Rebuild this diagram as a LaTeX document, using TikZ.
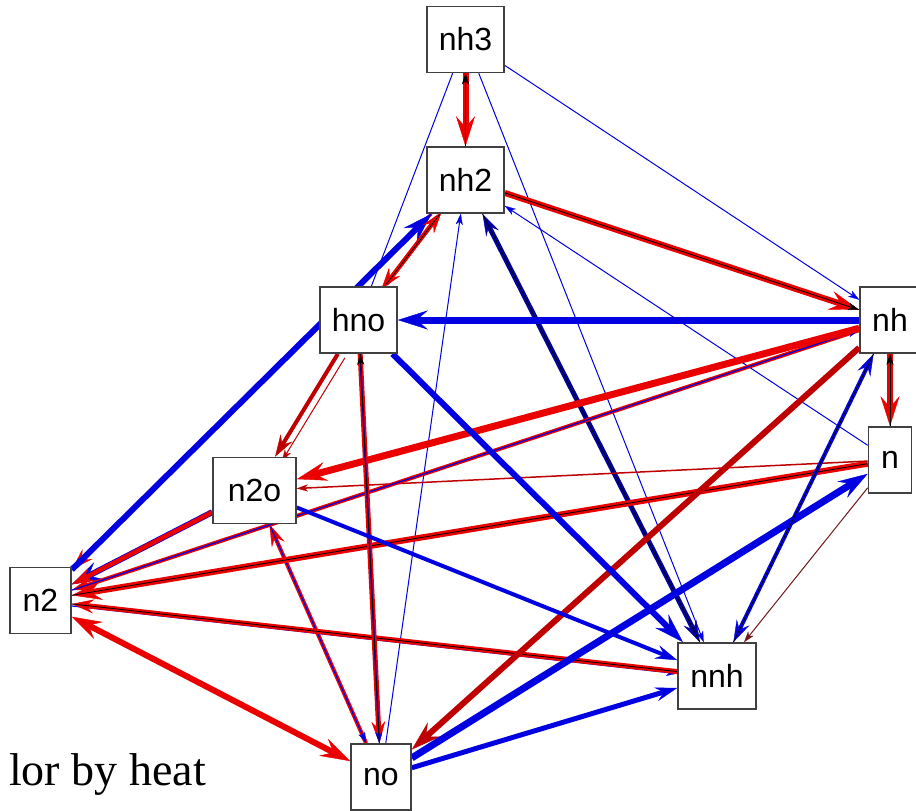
\documentclass[tikz,border=0pt]{standalone}
\usepackage{fontspec}
\newfontfamily\boxfont{Liberation Sans}
\newfontfamily\capfont{Liberation Serif}
\usetikzlibrary{arrows.meta}
\definecolor{hr}{RGB}{235,0,0}
\definecolor{hb}{RGB}{0,0,225}
\definecolor{dr}{RGB}{190,0,0}
\definecolor{db}{RGB}{0,0,165}
\definecolor{brn}{RGB}{110,25,25}
\pgfdeclarelayer{edges}
\pgfsetlayers{edges,main}
\tikzset{
  tL/.tip={Stealth[length=30pt,width=19pt,inset=11pt,line width=0.4pt]},
  tM/.tip={Stealth[length=22pt,width=14pt,inset=8pt,line width=0.4pt]},
  tS/.tip={Stealth[length=11pt,width=7pt,inset=3pt,line width=0.2pt]},
  rl/.style={draw=hr,line width=#1},
  bl/.style={draw=hb,line width=#1},
  drl/.style={draw=dr,line width=#1},
  dbl/.style={draw=db,line width=#1},
  brl/.style={draw=brn,line width=#1},
  kl/.style={draw=black,line width=0.8pt},
  box/.style={draw=black!75,line width=1.6pt,fill=white,minimum height=66pt,
    inner sep=0pt,font=\boxfont\fontsize{32pt}{32pt}\selectfont},
}
\begin{document}
\begin{tikzpicture}[x=1pt,y=-1pt]
\useasboundingbox (0,0) rectangle (916,811);
% nodes
\node[box,minimum width=77pt] (nh3) at (465.5,39.5) {nh3};
\node[box,minimum width=77pt] (nh2) at (465.5,180) {nh2};
\node[box,minimum width=77pt] (hno) at (358.5,320) {hno};
\node[box,minimum width=60pt] (nh)  at (890,320) {nh};
\node[box,minimum width=43pt] (n)   at (890,460) {n};
\node[box,minimum width=83pt] (n2o) at (254.5,490.5) {n2o};
\node[box,minimum width=61pt] (n2)  at (40.5,600.5) {n2};
\node[box,minimum width=78pt] (nnh) at (717,676) {nnh};
\node[box,minimum width=60pt] (no)  at (381,777) {no};
% caption
\node[anchor=base west,inner sep=0pt,font=\capfont\fontsize{46pt}{46pt}\selectfont] (cap) at (9,785) {lor by heat};
% edges
\begin{pgfonlayer}{edges}
% thin blue from nh3
\draw[bl=1pt] (nh3) -- (hno);
\draw[bl=1pt,-tS] (nh3) -- (nnh);
\draw[bl=1pt,-tS] (nh3) -- (nh);
% nh3 <-> nh2
\draw[rl=6pt,-tL] (nh3) -- (nh2);
\draw[kl,-tS] (nh2) -- (nh3);
% nh2 -> nh
\draw[rl=6pt,-tL] (nh2) -- (nh);
\draw[kl,-tS] (nh2) -- (nh);
% n -> nh2, no -> nh2
\draw[bl=1pt,-tS] (n) -- (nh2);
\draw[bl=1pt,-tS] (no) -- (nh2);
% nh2 <-> nnh
\draw[dbl=5pt,tM-tM] (nh2) -- (nnh);
\draw[kl] (nh2) -- (nnh);
% n2 <-> nh2
\draw[rl=3pt,-tM] (nh2) -- (n2);
\draw[bl=6pt,-tL] (n2) -- (nh2);
% hno <-> nh2
\draw[rl=4pt,-tM,transform canvas={shift={(2pt,2pt)}}] (hno) -- (nh2);
\draw[rl=3pt,-tM,transform canvas={shift={(-3pt,-3pt)}}] (nh2) -- (hno);
\draw[kl,transform canvas={shift={(2pt,2pt)}}] (hno) -- (nh2);
% hno -> n2o
\draw[drl=4pt,-tM] (hno) -- (n2o);
\draw[drl=1pt,-tS,transform canvas={shift={(7pt,-4pt)}}] (hno) -- (n2o);
% n2o <-> no
\draw[rl=4pt,-tM] (no) -- (n2o);
\draw[bl=1.2pt,-tS] (n2o) -- (no);
% n2o -> n2
\draw[bl=6pt,-tL] (n2o) -- (n2);
\draw[rl=4.5pt,-tM] (n2o) -- (n2);
% no <-> n2
\draw[rl=6pt,tL-tL] (no) -- (n2);
% nnh -> n2
\draw[bl=1.2pt,-tS,transform canvas={shift={(0pt,-2pt)}}] (n2) -- (nnh);
\draw[rl=5pt,-tM] (nnh) -- (n2);
\draw[kl] (nnh) -- (n2);
% n -> n2
\draw[rl=6pt,-tL] (n) -- (n2);
\draw[kl] (n) -- (n2);
% n -> n2o
\draw[drl=1.5pt,-tS] (n) -- (n2o);
% nh <-> n2
\draw[rl=4pt,-tM] (nh) -- (n2);
\draw[bl=1.2pt,-tS] (n2) -- (nh);
% nh -> n2o
\draw[rl=7pt,-tL] (nh) -- (n2o);
% hno <-> no
\draw[rl=5pt,-tM] (hno) -- (no);
\draw[bl=1.5pt,-tS] (hno) -- (no);
\draw[kl,-tS] (no) -- (hno);
% nh -> no
\draw[drl=6pt,-tL] (nh) -- (no);
% blue edges
\draw[bl=7pt,-tL] (nh) -- (hno);
\draw[bl=6pt,-tL] (hno) -- (nnh);
\draw[bl=4pt,-tM] (n2o) -- (nnh);
\draw[bl=5pt,-tM] (no) -- (nnh);
\draw[bl=7pt,-tL] (no) -- (n);
\draw[bl=4pt,tM-tM] (nnh) -- (nh);
\draw[kl] (nnh) -- (nh);
% nh <-> n
\draw[rl=6pt,-tL] (nh) -- (n);
\draw[kl,-tS] (n) -- (nh);
% n -> nnh
\draw[brl=1pt,-tS] (n) -- (nnh);
\end{pgfonlayer}
\end{tikzpicture}
\end{document}
